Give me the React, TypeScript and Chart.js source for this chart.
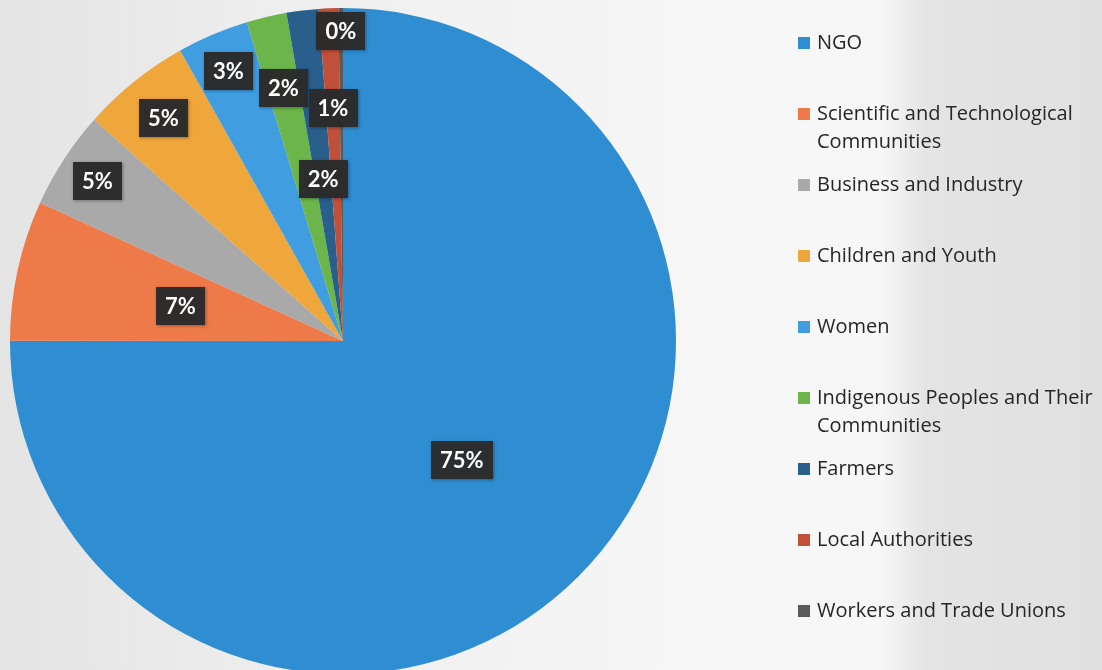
import React, { useEffect, useRef } from "react";
import { Chart, registerables } from "chart.js";

Chart.register(...registerables);

const categories = [
  "NGO",
  "Scientific and Technological Communities",
  "Business and Industry",
  "Children and Youth",
  "Women",
  "Indigenous Peoples and Their Communities",
  "Farmers",
  "Local Authorities",
  "Workers and Trade Unions",
];
const shares = [75.0, 6.8, 4.75, 5.3, 3.47, 1.94, 1.56, 0.94, 0.22];
const colors = [
  "#2f8dd1",
  "#ee7a4a",
  "#a9a9a9",
  "#efa63a",
  "#3f9de0",
  "#6cb54a",
  "#2a5f8c",
  "#c0503a",
  "#5a5a5a",
];
// radial position of each data label, as a fraction of the pie radius
const labelRadius = [0.505, 0.5, 0.88, 0.86, 0.88, 0.78, 0.49, 0.7, 0.93];

const LABEL_FONT = "Lato, 'Open Sans', 'DejaVu Sans', sans-serif";
const LEGEND_FONT = "'Open Sans', Lato, 'DejaVu Sans', sans-serif";

const dataLabelPlugin = {
  id: "dataLabelBoxes",
  afterDatasetsDraw(chart: any) {
    const ctx = chart.ctx;
    const meta = chart.getDatasetMeta(0);
    const values: number[] = chart.data.datasets[0].data;
    const total = values.reduce((a, b) => a + b, 0);
    ctx.save();
    ctx.font = `bold 22px ${LABEL_FONT}`;
    ctx.textAlign = "center";
    ctx.textBaseline = "middle";
    meta.data.forEach((arc: any, i: number) => {
      const { x, y, startAngle, endAngle, outerRadius } = arc.getProps(
        ["x", "y", "startAngle", "endAngle", "outerRadius"],
        true
      );
      const mid = (startAngle + endAngle) / 2;
      const r = outerRadius * labelRadius[i];
      const cx = x + Math.cos(mid) * r;
      const cy = y + Math.sin(mid) * r;
      const text = Math.round((values[i] / total) * 100) + "%";
      const w = ctx.measureText(text).width + 18;
      const h = 38;
      ctx.shadowColor = "rgba(0,0,0,0.35)";
      ctx.shadowBlur = 3;
      ctx.shadowOffsetX = 1;
      ctx.shadowOffsetY = 1;
      ctx.fillStyle = "rgba(43,43,43,0.97)";
      ctx.fillRect(Math.round(cx - w / 2), Math.round(cy - h / 2), Math.round(w), h);
      ctx.shadowColor = "transparent";
      ctx.fillStyle = "#ffffff";
      ctx.fillText(text, cx, cy + 1);
    });
    ctx.restore();
  },
};

const legendPlugin = {
  id: "sideLegend",
  afterDraw(chart: any) {
    const ctx = chart.ctx;
    const labels: string[] = chart.data.labels;
    const bg: string[] = chart.data.datasets[0].backgroundColor;
    const x0 = chart.chartArea.right + 122;
    const textX = x0 + 19;
    const maxW = 284;
    const firstY = 43;
    const step = 71;
    const lineH = 28;
    ctx.save();
    ctx.font = `20px ${LEGEND_FONT}`;
    ctx.textBaseline = "middle";
    ctx.textAlign = "left";
    labels.forEach((lab, i) => {
      const cy = firstY + i * step;
      ctx.fillStyle = bg[i];
      ctx.fillRect(x0, cy - 6, 12, 12);
      const words = lab.split(" ");
      const lines: string[] = [];
      let cur = "";
      words.forEach((w) => {
        const test = cur ? cur + " " + w : w;
        if (ctx.measureText(test).width > maxW && cur) {
          lines.push(cur);
          cur = w;
        } else cur = test;
      });
      if (cur) lines.push(cur);
      ctx.fillStyle = "#262626";
      lines.forEach((ln, j) => ctx.fillText(ln, textX, cy + j * lineH));
    });
    ctx.restore();
  },
};

export default function App() {
  const ref = useRef<HTMLCanvasElement | null>(null);
  useEffect(() => {
    if (!ref.current) return;
    const chart = new Chart(ref.current, {
      type: "pie",
      data: {
        labels: categories,
        datasets: [
          {
            data: shares,
            backgroundColor: colors,
            borderWidth: 0,
          },
        ],
      },
      options: {
        animation: false,
        responsive: false,
        maintainAspectRatio: false,
        layout: { padding: { left: 10, right: 426, top: 8, bottom: 2 } },
        plugins: {
          legend: { display: false },
          tooltip: { enabled: false },
        },
      },
      plugins: [dataLabelPlugin, legendPlugin],
    });
    return () => chart.destroy();
  }, []);
  return (
    <div
      style={{
        position: "fixed",
        left: 0,
        top: 0,
        width: 1102,
        height: 670,
        overflow: "hidden",
        background:
          "linear-gradient(90deg, #e4e4e4 0%, #eeeeee 25%, #f6f6f6 62%, #f7f7f7 80%, #e4e4e4 84%, #e0e0e0 100%)",
      }}
    >
      <canvas ref={ref} width={1102} height={676} style={{ display: "block" }} />
    </div>
  );
}
